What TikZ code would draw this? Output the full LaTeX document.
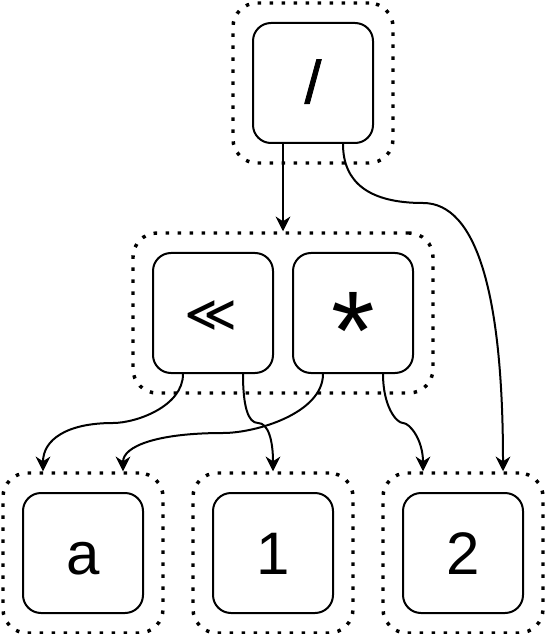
\documentclass[tikz,border=0pt]{standalone}
\usepackage{fontspec}
\setmainfont{Liberation Sans}
\newfontfamily\symfont{DejaVu Sans}
\newfontfamily\slashfont[FakeBold=1.4]{Liberation Sans}
\usetikzlibrary{arrows.meta}

\tikzset{
  opbox/.style={draw, line width=1.5pt, rounded corners=13.5pt, minimum width=90pt, minimum height=90pt, inner sep=0pt},
  groupbox/.style={draw, line width=2.6pt, dash pattern=on 2.6pt off 6.4pt, rounded corners=18pt, minimum height=120pt, inner sep=0pt},
  oplabel/.style={anchor=base, inner sep=0pt, font=\fontsize{45}{54}\selectfont},
  link/.style={line width=1.5pt, -{Stealth[length=11pt,width=11pt,inset=3.5pt]}}
}

\begin{document}
\begin{tikzpicture}[x=0.75pt,y=0.75pt,yscale=-1,xscale=1]
\useasboundingbox (0,0) rectangle (544,634);

%Dotted Groups
\node[groupbox, minimum width=120pt] (divg) at (313,83) {};
\node[groupbox, minimum width=225pt] (midg) at (283,313) {};
\node[groupbox, minimum width=120pt] (ag) at (83,553) {};
\node[groupbox, minimum width=120pt] (oneg) at (273,553) {};
\node[groupbox, minimum width=120pt] (twog) at (463,553) {};

%Rounded Rects
\node[opbox] (div) at (313,83) {};
\node[opbox] (shl) at (213,313) {};
\node[opbox] (mul) at (353,313) {};
\node[opbox] (a) at (83,553) {};
\node[opbox] (one) at (273,553) {};
\node[opbox] (two) at (463,553) {};

%Straight Lines
\draw[link] ([xshift=-22.5pt]div.south) -- (midg.north);
%Curve Lines
\draw[link] ([xshift=22.5pt]div.south) .. controls (343,183) and (369.7,203) .. (423,203)
  .. controls (476.3,203) and (503,293) .. ([xshift=30pt]twog.north);
%Curve Lines
\draw[link] ([xshift=-22.5pt]shl.south) .. controls (183,406.3) and (136.3,423) .. (113,423)
  .. controls (66.7,423) and (43,439.7) .. ([xshift=-30pt]ag.north);
%Curve Lines
\draw[link] ([xshift=22.5pt]shl.south) .. controls (243,406.3) and (248,423) .. (258,423)
  .. controls (268,423) and (273,439.7) .. (oneg.north);
%Curve Lines
\draw[link] ([xshift=-22.5pt]mul.south) .. controls (323,413) and (256.3,433) .. (223,433)
  .. controls (156.7,433) and (123,446.3) .. ([xshift=30pt]ag.north);
%Curve Lines
\draw[link] ([xshift=22.5pt]mul.south) .. controls (383,406.3) and (396.3,423) .. (403,423)
  .. controls (409.7,423) and (423,439.7) .. ([xshift=-30pt]twog.north);

% Text Node
\node[oplabel, font=\slashfont\fontsize{45}{54}\selectfont] (divlbl) at (313,103) {/};
% Text Node
\node[anchor=center, inner sep=0pt, font=\symfont\fontsize{38}{46}\selectfont] (shllbl) at (211,316) {≪};
% Text Node
\node[oplabel, font=\fontsize{84}{100}\selectfont] (mullbl) at (353,369) {*};
% Text Node
\node[oplabel] (albl) at (83,574) {a};
% Text Node
\node[oplabel] (onelbl) at (273,574) {1};
% Text Node
\node[oplabel] (twolbl) at (463,574) {2};

\end{tikzpicture}
\end{document}
